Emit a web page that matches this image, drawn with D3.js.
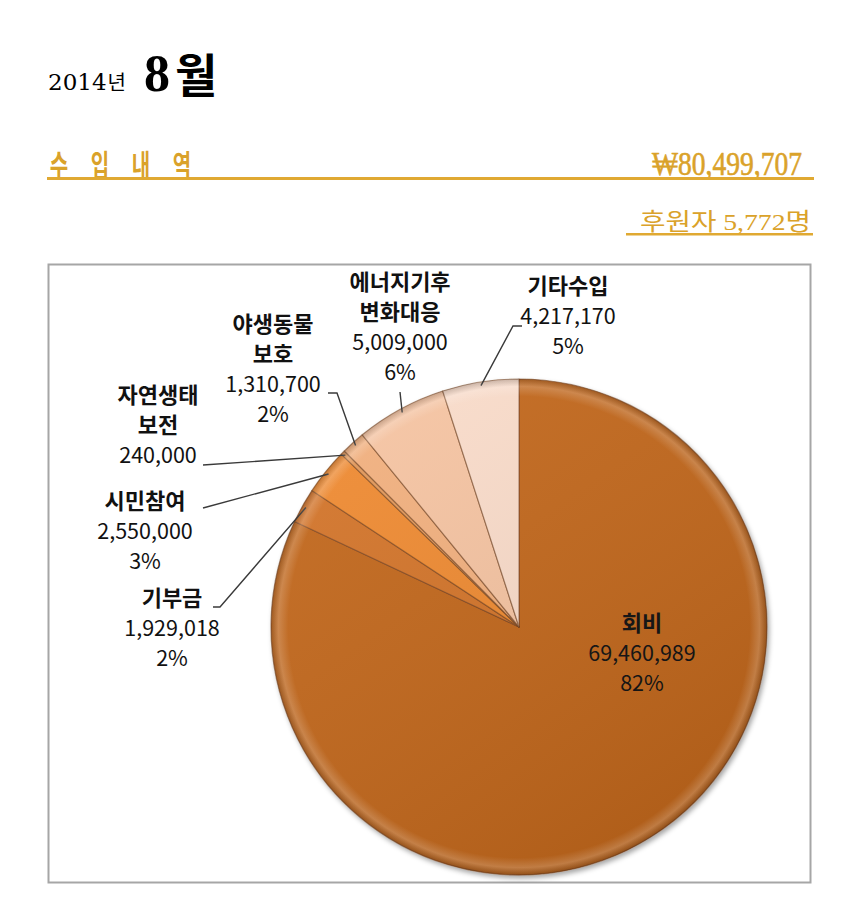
<!DOCTYPE html>
<html>
<head>
<meta charset="utf-8">
<script src="https://cdn.jsdelivr.net/npm/d3@7"></script>
<style>
  html, body { margin: 0; padding: 0; background: #fff; }
  svg { display: block; }
</style>
</head>
<body>
<svg id="chart" width="860" height="898"></svg>
<script>
// ---- data ----
const categories = ["회비", "기부금", "시민참여", "자연생태\n보전", "야생동물\n보호", "에너지기후\n변화대응", "기타수입"];
const values = [69460989, 1929018, 2550000, 240000, 1310700, 5009000, 4217170];
const percentLabels = ["82%", "2%", "3%", "", "2%", "6%", "5%"];
const yearLabel = "2014년";
const monthLabel = "8월";
const incomeTitle = ["수", "입", "내", "역"];
const incomeTotal = "₩80,499,707";
const donorLabel = "후원자 5,772명";

// ---- layout / style ----
const colors = ["#C3671F", "#D4742A", "#F08B30", "#E2985A", "#F3B17F", "#F7C5A3", "#FBDDCB"];
const gold = "#DAA22A";
const cx = 519, cy = 627, R = 248;
// label block centre offsets from pie centre, and leader elbow / stub offsets (relative to pie centre)
const labelLayout = [
  { dx: 123,  dy: 26,   elbow: null },
  { dx: -347, dy: 1,    elbow: [-299, -20], stub: [-306, -20] },
  { dx: -374, dy: -96,  elbow: [-316, -119], stub: [-316, -119] },
  { dx: -361, dy: -202, elbow: [-316, -162], stub: [-316, -162] },
  { dx: -246, dy: -258, elbow: [-182, -234], stub: [-191, -234] },
  { dx: -119, dy: -300, elbow: [-119, -235], stub: [-119, -235] },
  { dx: 49,   dy: -311, elbow: [-6, -301], stub: [3, -301] }
];

const svg = d3.select("#chart");
const defs = svg.append("defs");

// ---- title ----
const title = svg.append("text").attr("x", 48).attr("y", 90).attr("fill", "#000");
title.append("tspan").attr("font-family", "DejaVu Serif").attr("font-size", 23).text(yearLabel.slice(0, 4));
title.append("tspan").attr("font-family", "Noto Sans CJK KR").attr("font-size", 20).attr("dx", 1).text(yearLabel.slice(4));
svg.append("text").attr("x", 144).attr("y", 91)
  .attr("font-family", "Liberation Serif").attr("font-weight", 700).attr("font-size", 52)
  .text(monthLabel.slice(0, 1));
svg.append("text").attr("x", 175).attr("y", 92)
  .attr("font-family", "Noto Sans CJK KR").attr("font-weight", 700).attr("font-size", 46)
  .text(monthLabel.slice(1));

// ---- header ----
const titleX = d3.scalePoint().domain(incomeTitle).range([59, 182]);
svg.append("g").selectAll("text").data(incomeTitle).join("text")
  .attr("transform", d => `translate(${titleX(d)},176) scale(0.8,1.18)`)
  .attr("text-anchor", "middle")
  .attr("font-family", "Noto Sans CJK KR").attr("font-weight", 700).attr("font-size", 25).attr("fill", gold)
  .text(d => d);
svg.append("text").attr("x", 652).attr("y", 175)
  .attr("font-family", "Liberation Serif").attr("font-size", 33).attr("fill", gold)
  .attr("stroke", gold).attr("stroke-width", 0.6)
  .attr("textLength", 150).attr("lengthAdjust", "spacingAndGlyphs")
  .text(incomeTotal);
svg.append("rect").attr("x", 47).attr("y", 177).attr("width", 767).attr("height", 3).attr("fill", "#E0A932");

svg.append("text").attr("x", 640).attr("y", 230)
  .attr("font-family", "Liberation Serif, Noto Sans CJK KR").attr("font-size", 24).attr("fill", gold)
  .attr("textLength", 171).attr("lengthAdjust", "spacingAndGlyphs")
  .text(donorLabel);
svg.append("rect").attr("x", 626).attr("y", 233).attr("width", 187).attr("height", 2.5).attr("fill", "#E0A932");

// ---- chart frame ----
svg.append("rect").attr("x", 48.5).attr("y", 264.5).attr("width", 762).attr("height", 618)
  .attr("fill", "#fff").attr("stroke", "#A6A6A6").attr("stroke-width", 2);

// ---- pie ----
const pie = d3.pie().sort(null).value(d => d);
const arcs = pie(values);
const arc = d3.arc().innerRadius(0).outerRadius(R);

const shadow = defs.append("filter").attr("id", "shadow").attr("x", "-10%").attr("y", "-10%").attr("width", "120%").attr("height", "120%");
shadow.append("feDropShadow").attr("dx", 2).attr("dy", 3).attr("stdDeviation", 2.5)
  .attr("flood-color", "#000").attr("flood-opacity", 0.35);

const bevel = defs.append("radialGradient").attr("id", "bevel")
  .attr("gradientUnits", "userSpaceOnUse").attr("cx", cx).attr("cy", cy).attr("r", R);
bevel.append("stop").attr("offset", "0%").attr("stop-color", "#fff").attr("stop-opacity", 0);
bevel.append("stop").attr("offset", "93%").attr("stop-color", "#fff").attr("stop-opacity", 0);
bevel.append("stop").attr("offset", "97%").attr("stop-color", "#fff").attr("stop-opacity", 0.18);
bevel.append("stop").attr("offset", "100%").attr("stop-color", "#000").attr("stop-opacity", 0.18);

const light = defs.append("linearGradient").attr("id", "light")
  .attr("gradientUnits", "userSpaceOnUse").attr("x1", cx - R).attr("y1", cy - R).attr("x2", cx + R * 0.4).attr("y2", cy + R);
light.append("stop").attr("offset", "0%").attr("stop-color", "#fff").attr("stop-opacity", 0.06);
light.append("stop").attr("offset", "100%").attr("stop-color", "#000").attr("stop-opacity", 0.10);

const g = svg.append("g").attr("transform", `translate(${cx},${cy})`);
const slices = g.append("g").attr("filter", "url(#shadow)");
slices.selectAll("path.slice").data(arcs).join("path")
  .attr("class", "slice")
  .attr("d", arc)
  .attr("fill", (d, i) => colors[i])
  .attr("stroke", "rgba(110,60,25,0.55)")
  .attr("stroke-width", 1.2)
  .attr("stroke-linejoin", "round");
svg.append("circle").attr("cx", cx).attr("cy", cy).attr("r", R).attr("fill", "url(#light)");
svg.append("circle").attr("cx", cx).attr("cy", cy).attr("r", R).attr("fill", "url(#bevel)");

// ---- leader lines ----
arcs.forEach((d, i) => {
  const L = labelLayout[i];
  if (!L.elbow) return;
  const a = (d.startAngle + d.endAngle) / 2;
  const ex = Math.sin(a) * R * 0.985, ey = -Math.cos(a) * R * 0.985;
  const pts = [[ex, ey], L.elbow, L.stub];
  g.append("path")
    .attr("d", d3.line()(pts))
    .attr("fill", "none").attr("stroke", "#3a3a3a").attr("stroke-width", 1.4);
});

// ---- labels ----
const fmt = d3.format(",");
arcs.forEach((d, i) => {
  const L = labelLayout[i];
  const nameLines = categories[i].split("\n");
  const lines = nameLines.map(t => ({ t, bold: true }));
  lines.push({ t: fmt(values[i]), bold: false });
  if (percentLabels[i]) lines.push({ t: percentLabels[i], bold: false });
  const lh = 30;
  const top = L.dy - (lines.length - 1) * lh / 2;
  const t = g.append("text").attr("text-anchor", "middle")
    .attr("font-family", "Noto Sans CJK KR").attr("fill", "#111");
  lines.forEach((ln, j) => {
    t.append("tspan").attr("x", L.dx).attr("y", top + j * lh + 7.5)
      .attr("font-size", ln.bold ? 22 : 21.5)
      .attr("font-weight", ln.bold ? 700 : 400)
      .text(ln.t);
  });
});
</script>
</body>
</html>
